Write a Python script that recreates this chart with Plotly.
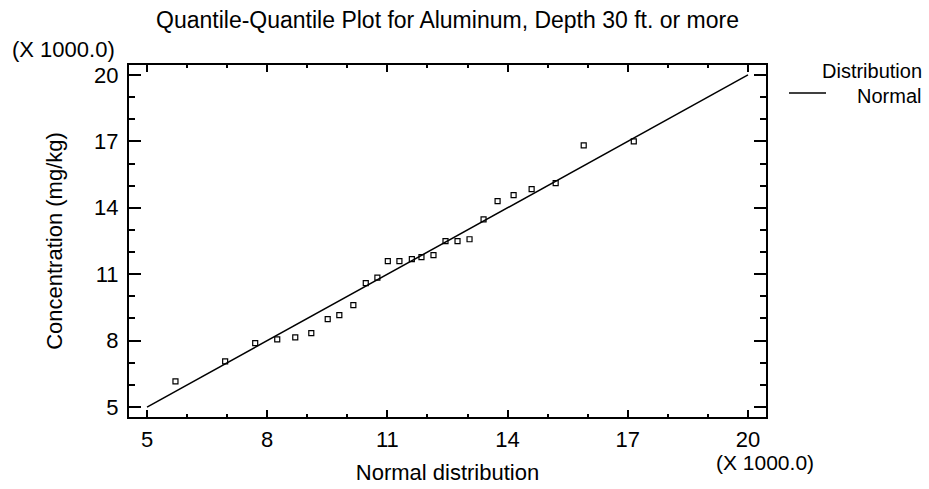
import plotly.graph_objects as go

# Data (values in thousands)
normal_quantiles = [5.71, 6.95, 7.70, 8.25, 8.70, 9.10, 9.51, 9.80, 10.15, 10.46,
                    10.75, 11.01, 11.30, 11.61, 11.85, 12.15, 12.45, 12.75, 13.05, 13.40,
                    13.75, 14.15, 14.60, 15.20, 15.90, 17.15]
concentration = [6.16, 7.06, 7.89, 8.06, 8.15, 8.34, 8.97, 9.15, 9.60, 10.60,
                 10.85, 11.59, 11.59, 11.68, 11.77, 11.86, 12.49, 12.49, 12.58, 13.48,
                 14.30, 14.57, 14.84, 15.11, 16.82, 17.00]
ref_line_x = [5, 20]
ref_line_y = [5, 20]
tick_vals = [5, 8, 11, 14, 17, 20]
tick_text = ["5", "8", "11", "14", "17", "20"]

FONT = "Liberation Sans, Arial, sans-serif"
FS = 22

fig = go.Figure()
fig.add_trace(go.Scatter(x=ref_line_x, y=ref_line_y, mode="lines",
                         line=dict(color="black", width=1.5), name="Normal",
                         showlegend=False, hoverinfo="skip"))
fig.add_trace(go.Scatter(x=normal_quantiles, y=concentration, mode="markers",
                         marker=dict(symbol="square-open", size=5, color="black",
                                     line=dict(width=1.2, color="black")),
                         showlegend=False))

axis_common = dict(
    showgrid=False, zeroline=False, showline=True, linecolor="black", linewidth=2,
    mirror="ticks", ticks="inside", tickcolor="black", tickwidth=2,
    tickvals=tick_vals, ticktext=tick_text, automargin=False,
    tickfont=dict(family=FONT, size=FS, color="black"),
    range=[4.55, 20.45],
)

fig.update_layout(
    width=929, height=489,
    margin=dict(l=129, r=163, t=65, b=72),
    paper_bgcolor="white", plot_bgcolor="white",
    font=dict(family=FONT, size=FS, color="black"),
    title=dict(text="Quantile-Quantile Plot for Aluminum, Depth 30 ft. or more",
               x=0.5, xref="paper", xanchor="center",
               y=1 - 20 / 489, yref="container", yanchor="middle",
               font=dict(family=FONT, size=23, color="black")),
    xaxis=dict(**axis_common, ticklen=7, ticklabelstandoff=2,
               minor=dict(ticks="inside", ticklen=3, tickwidth=2, tickcolor="black",
                          dtick=1, tick0=5, showgrid=False),
               title=dict(text="Normal distribution", standoff=13,
                          font=dict(family=FONT, size=FS, color="black"))),
    yaxis=dict(**axis_common, ticklen=12, ticklabelstandoff=4,
               minor=dict(ticks="inside", ticklen=6, tickwidth=2, tickcolor="black",
                          dtick=1, tick0=5, showgrid=False),
               title=dict(text="Concentration (mg/kg)", standoff=25,
                          font=dict(family=FONT, size=FS, color="black"))),
    showlegend=False,
)

# Multiplier labels
fig.add_annotation(text="(X 1000.0)", xref="paper", yref="paper",
                   x=-129 / 637 + 10 / 637, y=1 + (65 - 50) / 352,
                   xanchor="left", yanchor="middle", showarrow=False,
                   font=dict(family=FONT, size=FS, color="black"))
fig.add_annotation(text="(X 1000.0)", xref="paper", yref="paper",
                   x=(765 - 129) / 637, y=-(462 - 417) / 352,
                   xanchor="center", yanchor="middle", showarrow=False,
                   font=dict(family=FONT, size=21, color="black"))

# Legend drawn manually
fig.add_annotation(text="Distribution", xref="paper", yref="paper",
                   x=(924 - 129) / 637, y=1 - (71 - 65) / 352,
                   xanchor="right", yanchor="middle", showarrow=False,
                   font=dict(family=FONT, size=20, color="black"))
fig.add_annotation(text="Normal", xref="paper", yref="paper",
                   x=(923 - 129) / 637, y=1 - (96 - 65) / 352,
                   xanchor="right", yanchor="middle", showarrow=False,
                   font=dict(family=FONT, size=20, color="black"))
fig.add_shape(type="line", xref="paper", yref="paper",
              x0=(789 - 129) / 637, x1=(826 - 129) / 637,
              y0=1 - (93 - 65) / 352, y1=1 - (93 - 65) / 352,
              line=dict(color="black", width=1.5))

fig.write_html("out.html", config={"displayModeBar": False},
               post_script="document.body.style.margin='0';")
